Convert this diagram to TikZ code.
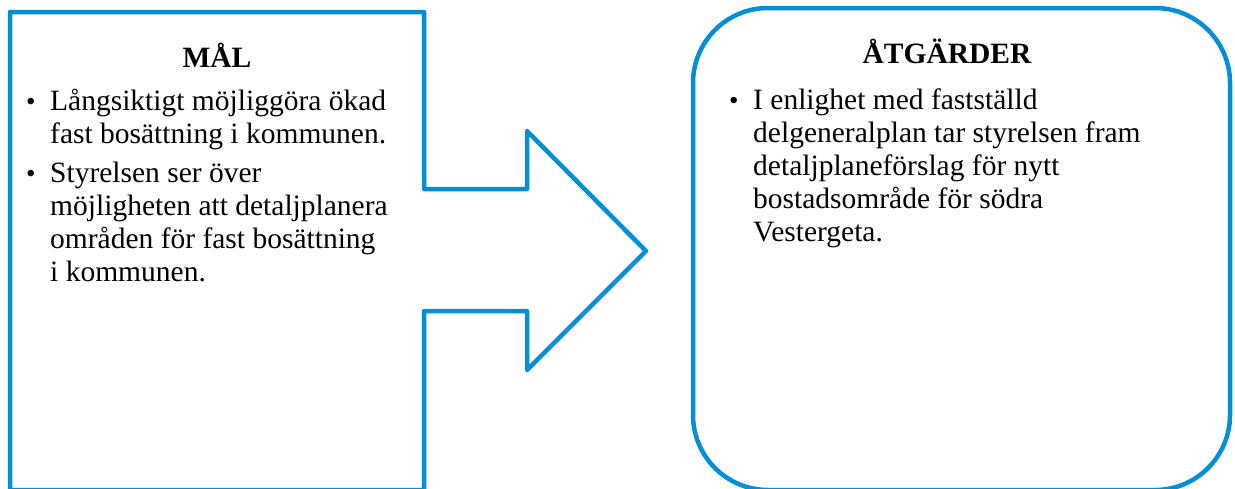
\documentclass[tikz,border=0pt]{standalone}
\usepackage{fontspec}
\setmainfont{Liberation Serif}
\usetikzlibrary{positioning}

\definecolor{frameblue}{RGB}{3,143,214}

\newcommand{\linesof}[1]{\begin{tabular}[t]{@{}l@{}}#1\end{tabular}}

\tikzset{
    frame/.style={draw=frameblue, line width=4.5pt, line join=round},
    heading/.style={font=\fontsize{29.5}{34}\selectfont\bfseries, anchor=base, inner sep=0pt},
    bodytext/.style={font=\fontsize{29.5}{33}\selectfont, anchor=base west, inner sep=0pt},
    bulletmark/.style={font=\fontsize{27}{33}\selectfont, anchor=base west, inner sep=0pt},
}

\begin{document}
\begin{tikzpicture}[x=1pt, y=-1pt]
    \useasboundingbox (0,0) rectangle (1235,488);

    % goal box with the arrow
    \draw[frame] (10,490) -- (10,12) -- (424,12) -- (424,189) -- (527,189) -- (527,131)
        -- (646,251) -- (527,370) -- (527,311) -- (424,311) -- (424,490) -- cycle;

    % action box
    \draw[frame, rounded corners=75pt] (693,8) rectangle (1230,490);

    \node[heading] (goal) at (217,67) {MÅL};
    \node[bulletmark] (goalbA) at (26,110) {\textbullet};
    \node[bodytext] (goalA) at (50,110) {\linesof{Långsiktigt möjliggöra ökad\\fast bosättning i kommunen.}};
    \node[bulletmark] (goalbB) at (26,182) {\textbullet};
    \node[bodytext] (goalB) at (50,182) {\linesof{Styrelsen ser över\\möjligheten att detaljplanera\\områden för fast bosättning\\i kommunen.}};

    \node[heading] (action) at (947,63) {ÅTGÄRDER};
    \node[bulletmark] (actionb) at (729,109) {\textbullet};
    \node[bodytext] (actionA) at (753,109) {\linesof{I enlighet med fastställd\\delgeneralplan tar styrelsen fram\\detaljplaneförslag för nytt\\bostadsområde för södra\\Vestergeta.}};
\end{tikzpicture}
\end{document}
